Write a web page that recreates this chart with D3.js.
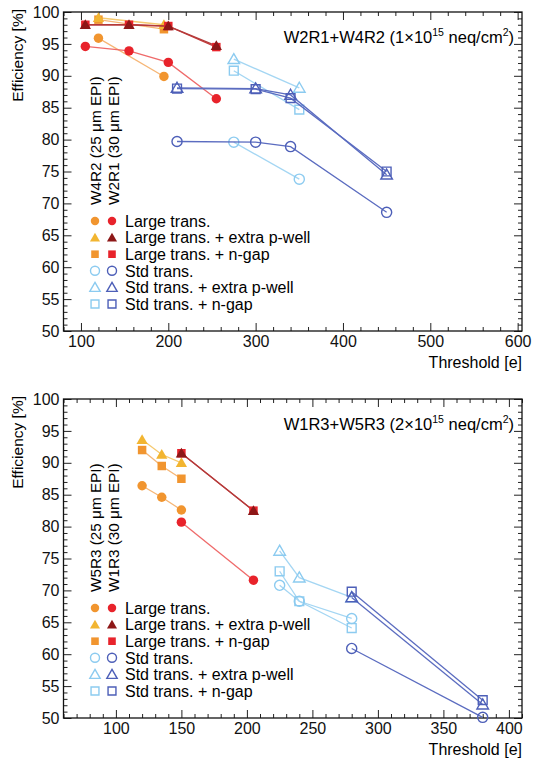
<!DOCTYPE html>
<html>
<head>
<meta charset="utf-8">
<script src="https://cdn.jsdelivr.net/npm/d3@7"></script>
<style>
  body { margin: 0; background: #fff; }
  svg { font-family: "Liberation Sans", Arial, Helvetica, sans-serif; }
</style>
</head>
<body>
<div id="chart"></div>
<script>

// ---- top panel: W2R1 + W4R2 (1e15) ----
// W4R2 (25 um EPI) -> light colours
const top_w4_large_x = [120, 195];
const top_w4_large_y = [95.9, 89.9];
const top_w4_large_pwell_y = [99.1, 98.0];
const top_w4_large_ngap_y = [98.8, 97.3];
const top_w4_std_x = [275, 350];
const top_w4_std_y = [79.6, 73.8];
const top_w4_std_pwell_y = [92.6, 88.1];
const top_w4_std_ngap_y = [90.8, 84.7];
// W2R1 (30 um EPI) -> dark colours
const top_w2_large_x = [105, 155, 200, 255];
const top_w2_large_y = [94.6, 93.9, 92.1, 86.4];
const top_w2_large_pwell_y = [98.0, 98.0, 97.8, 94.7];
const top_w2_large_ngap_y = [98.0, 98.0, 97.8, 94.5];
const top_w2_std_x = [210, 300, 340, 450];
const top_w2_std_y = [79.7, 79.6, 78.9, 68.6];
const top_w2_std_pwell_y = [88.1, 88.0, 87.0, 74.5];
const top_w2_std_ngap_y = [88.0, 87.9, 86.5, 75.0];

// ---- bottom panel: W1R3 + W5R3 (2e15) ----
// W5R3 (25 um EPI)
const bot_w5_large_x = [120, 135, 150];
const bot_w5_large_y = [86.4, 84.6, 82.6];
const bot_w5_large_pwell_y = [93.6, 91.3, 90.0];
const bot_w5_large_ngap_y = [92.0, 89.5, 87.5];
const bot_w5_std_x = [225, 240, 280];
const bot_w5_std_y = [70.8, 68.3, 65.6];
const bot_w5_std_pwell_y = [76.2, 72.0, 68.9];
const bot_w5_std_ngap_y = [73.0, 68.3, 64.1];
// W1R3 (30 um EPI)
const bot_w1_large_x = [150, 205];
const bot_w1_large_y = [80.7, 71.6];
const bot_w1_large_pwell_y = [91.5, 82.5];
const bot_w1_large_ngap_y = [91.5, 82.5];
const bot_w1_std_x = [280, 380];
const bot_w1_std_y = [60.9, 50.1];
const bot_w1_std_pwell_y = [68.9, 52.1];
const bot_w1_std_ngap_y = [69.8, 52.8];

// axis ticks
const top_x_ticks = [100, 200, 300, 400, 500, 600];
const bot_x_ticks = [100, 150, 200, 250, 300, 350, 400];
const y_ticks = [50, 55, 60, 65, 70, 75, 80, 85, 90, 95, 100];

const legend_labels = [
    "Large trans.",
    "Large trans. + extra p-well",
    "Large trans. + n-gap",
    "Std trans.",
    "Std trans. + extra p-well",
    "Std trans. + n-gap"
];

// marker styles, same order as the legend
const styles_light = [
    {shape: "circle", fill: "#f1952f", line: "#f6b676"},
    {shape: "triangle", fill: "#f2b531", line: "#f6ca70"},
    {shape: "square", fill: "#f1952f", line: "#f6b676"},
    {shape: "circle", open: true, fill: "#8ccbf0", line: "#a4d6f3"},
    {shape: "triangle", open: true, fill: "#8ccbf0", line: "#a4d6f3"},
    {shape: "square", open: true, fill: "#8ccbf0", line: "#a4d6f3"}
];
const styles_dark = [
    {shape: "circle", fill: "#e8232b", line: "#ef6a6a"},
    {shape: "triangle", fill: "#8d1717", line: "#b43a3a"},
    {shape: "square", fill: "#e8232b", line: "#c43a3a"},
    {shape: "circle", open: true, fill: "#4d5fb8", line: "#5b6cc0"},
    {shape: "triangle", open: true, fill: "#4d5fb8", line: "#5b6cc0"},
    {shape: "square", open: true, fill: "#4d5fb8", line: "#5b6cc0"}
];

const zip = (xs, ys) => xs.map((x, i) => [x, ys[i]]);

const panels = [
    {
        top: 12, bottom: 331, xdomain: [80, 605], xticks: top_x_ticks, xminor: 20,
        title: ["W2R1+W4R2 (1×10", "15", " neq/cm", "2", ")"],
        samples: ["W4R2 (25 μm EPI)", "W2R1 (30 μm EPI)"],
        light: [
            zip(top_w4_large_x, top_w4_large_y),
            zip(top_w4_large_x, top_w4_large_pwell_y),
            zip(top_w4_large_x, top_w4_large_ngap_y),
            zip(top_w4_std_x, top_w4_std_y),
            zip(top_w4_std_x, top_w4_std_pwell_y),
            zip(top_w4_std_x, top_w4_std_ngap_y)
        ],
        dark: [
            zip(top_w2_large_x, top_w2_large_y),
            zip(top_w2_large_x, top_w2_large_pwell_y),
            zip(top_w2_large_x, top_w2_large_ngap_y),
            zip(top_w2_std_x, top_w2_std_y),
            zip(top_w2_std_x, top_w2_std_pwell_y),
            zip(top_w2_std_x, top_w2_std_ngap_y)
        ]
    },
    {
        top: 399, bottom: 718, xdomain: [60, 410], xticks: bot_x_ticks, xminor: 10,
        title: ["W1R3+W5R3 (2×10", "15", " neq/cm", "2", ")"],
        samples: ["W5R3 (25 μm EPI)", "W1R3 (30 μm EPI)"],
        light: [
            zip(bot_w5_large_x, bot_w5_large_y),
            zip(bot_w5_large_x, bot_w5_large_pwell_y),
            zip(bot_w5_large_x, bot_w5_large_ngap_y),
            zip(bot_w5_std_x, bot_w5_std_y),
            zip(bot_w5_std_x, bot_w5_std_pwell_y),
            zip(bot_w5_std_x, bot_w5_std_ngap_y)
        ],
        dark: [
            zip(bot_w1_large_x, bot_w1_large_y),
            zip(bot_w1_large_x, bot_w1_large_pwell_y),
            zip(bot_w1_large_x, bot_w1_large_ngap_y),
            zip(bot_w1_std_x, bot_w1_std_y),
            zip(bot_w1_std_x, bot_w1_std_pwell_y),
            zip(bot_w1_std_x, bot_w1_std_ngap_y)
        ]
    }
];

const left = 63.5, right = 522;

const svg = d3.select("#chart").append("svg")
    .attr("width", 536)
    .attr("height", 760);

function symbolPath(st, legend) {
    let type = d3.symbolCircle, size = st.open ? 80 : 70;
    if (st.shape === "triangle") { type = d3.symbolTriangle; size = st.open ? 58 : 55; }
    if (st.shape === "square") { type = d3.symbolSquare; size = st.open ? 78 : 72; }
    if (legend) size *= 0.8;
    return d3.symbol().type(type).size(size)();
}

function drawMarker(g, st, px, py, legend) {
    const p = g.append("path")
        .attr("d", symbolPath(st, legend))
        .attr("transform", "translate(" + px + "," + (py + (st.shape === "triangle" ? 1 : 0)) + ")");
    if (st.open) {
        p.attr("fill", "none").attr("stroke", st.fill).attr("stroke-width", 1.4);
    } else {
        p.attr("fill", st.fill);
    }
}

// order to draw series within one group (squares below triangles)
const drawOrder = [0, 2, 1, 3, 5, 4];

panels.forEach(function (pn) {
    const x = d3.scaleLinear().domain(pn.xdomain).range([left, right]);
    const y = d3.scaleLinear().domain([50, 100]).range([pn.bottom, pn.top]);

    const g = svg.append("g");

    // minor ticks
    const xminor = d3.range(Math.ceil(pn.xdomain[0] / pn.xminor) * pn.xminor, pn.xdomain[1] + 0.01, pn.xminor)
        .filter(v => pn.xticks.indexOf(v) < 0);
    const yminor = d3.range(50, 100.01, 1).filter(v => v % 5 !== 0);

    g.append("g").attr("transform", "translate(0," + pn.bottom + ")")
        .call(d3.axisBottom(x).tickValues(xminor).tickSize(-4).tickFormat(""));
    g.append("g").attr("transform", "translate(0," + pn.top + ")")
        .call(d3.axisTop(x).tickValues(xminor).tickSize(-4).tickFormat(""));
    g.append("g").attr("transform", "translate(" + left + ",0)")
        .call(d3.axisLeft(y).tickValues(yminor).tickSize(-4).tickFormat(""));
    g.append("g").attr("transform", "translate(" + right + ",0)")
        .call(d3.axisRight(y).tickValues(yminor).tickSize(-4).tickFormat(""));

    // major ticks
    g.append("g").attr("class", "xaxis").attr("transform", "translate(0," + pn.bottom + ")")
        .call(d3.axisBottom(x).tickValues(pn.xticks).tickSize(-8).tickPadding(5));
    g.append("g").attr("transform", "translate(0," + pn.top + ")")
        .call(d3.axisTop(x).tickValues(pn.xticks).tickSize(-8).tickFormat(""));
    g.append("g").attr("class", "yaxis").attr("transform", "translate(" + left + ",0)")
        .call(d3.axisLeft(y).tickValues(y_ticks).tickSize(-8).tickPadding(4));
    g.append("g").attr("transform", "translate(" + right + ",0)")
        .call(d3.axisRight(y).tickValues(y_ticks).tickSize(-8).tickFormat(""));

    g.selectAll(".domain").remove();
    g.selectAll(".tick line").attr("stroke", "#222").attr("stroke-width", 1);
    g.selectAll(".tick text").attr("font-size", 16).attr("fill", "#111")
        .attr("font-family", "Liberation Sans, Arial, sans-serif");

    // frame
    g.append("rect")
        .attr("x", left).attr("y", pn.top)
        .attr("width", right - left).attr("height", pn.bottom - pn.top)
        .attr("fill", "none").attr("stroke", "#111").attr("stroke-width", 1.3);

    // axis titles
    g.append("text")
        .attr("x", right).attr("y", pn.bottom + 37)
        .attr("text-anchor", "end").attr("font-size", 16)
        .text("Threshold [e]");
    g.append("text")
        .attr("transform", "translate(23," + (pn.top - 3) + ") rotate(-90)")
        .attr("text-anchor", "end").attr("font-size", 15.5)
        .text("Efficiency [%]");

    // title with superscripts
    const t = g.append("text")
        .attr("x", 514).attr("y", pn.top + 31)
        .attr("text-anchor", "end").attr("font-size", 16.5);
    t.append("tspan").text(pn.title[0]);
    t.append("tspan").attr("font-size", 10.5).attr("dy", -7).text(pn.title[1]);
    t.append("tspan").attr("dy", 7).text(pn.title[2]);
    t.append("tspan").attr("font-size", 10.5).attr("dy", -7).text(pn.title[3]);
    t.append("tspan").attr("dy", 7).text(pn.title[4]);

    // sample labels, vertical
    pn.samples.forEach(function (s, i) {
        g.append("text")
            .attr("transform", "translate(" + (100.5 + i * 18) + "," + (pn.top + 193) + ") rotate(-90)")
            .attr("font-size", 15.3)
            .text(s);
    });

    // legend
    legend_labels.forEach(function (lab, i) {
        const ly = pn.top + 209 + i * 16.6;
        drawMarker(g, styles_light[i], 95, ly, true);
        drawMarker(g, styles_dark[i], 112, ly, true);
        g.append("text")
            .attr("x", 125).attr("y", ly)
            .attr("dy", "0.36em")
            .attr("font-size", 16)
            .text(lab);
    });

    const line = d3.line().x(d => x(d[0])).y(d => y(d[1]));

    [[pn.light, styles_light], [pn.dark, styles_dark]].forEach(function (grp) {
        const series = grp[0], st = grp[1];
        drawOrder.forEach(function (k) {
            g.append("path")
                .datum(series[k])
                .attr("d", line)
                .attr("fill", "none")
                .attr("stroke", st[k].line)
                .attr("stroke-width", 1.3);
        });
        drawOrder.forEach(function (k) {
            series[k].forEach(function (d) {
                drawMarker(g, st[k], x(d[0]), y(d[1]), false);
            });
        });
    });
});
</script>
</body>
</html>
